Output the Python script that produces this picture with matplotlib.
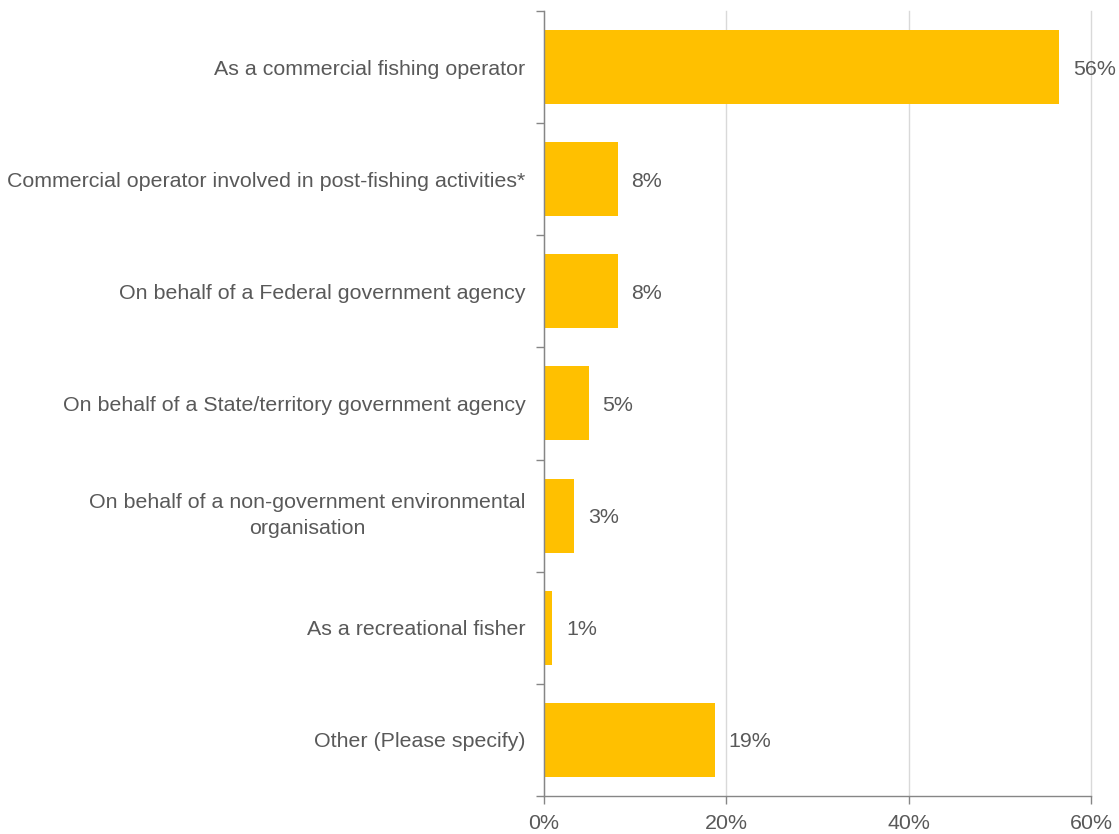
import matplotlib
matplotlib.use("Agg")
import matplotlib.pyplot as plt
from matplotlib.ticker import FixedLocator, NullFormatter
import numpy as np

categories = [
    "As a commercial fishing operator",
    "Commercial operator involved in post-fishing activities*",
    "On behalf of a Federal government agency",
    "On behalf of a State/territory government agency",
    "On behalf of a non-government environmental\norganisation",
    "As a recreational fisher",
    "Other (Please specify)",
]
values = [56.5, 8.1, 8.1, 4.9, 3.3, 0.9, 18.7]
value_labels = ["56%", "8%", "8%", "5%", "3%", "1%", "19%"]
xticks = [0, 20, 40, 60]
xtick_labels = ["0%", "20%", "40%", "60%"]

plt.rcParams['font.family'] = ['Liberation Sans', 'DejaVu Sans']
text_color = "#595959"
spine_color = "#868686"
grid_color = "#D9D9D9"
bar_color = "#FFC000"
fs = 15.4

fig = plt.figure(figsize=(11.19, 8.34), dpi=100)
ax = fig.add_axes([0.4862, 0.0456, 0.975 - 0.4862, 0.9868 - 0.0456])

n = len(categories)
y = np.arange(n)
ax.barh(y, values, height=0.66, color=bar_color, zorder=3)
ax.set_ylim(n - 0.5, -0.5)
ax.set_xlim(0, 60)

for yi, v, lab in zip(y, values, value_labels):
    ax.text(v + 1.5, yi, lab, va="center_baseline", ha="left", fontsize=fs,
            color=text_color, zorder=4)

ax.set_yticks(y)
ax.set_yticklabels(categories, fontsize=fs, color=text_color)
for lbl in ax.get_yticklabels():
    lbl.set_multialignment("center")
    lbl.set_linespacing(1.45)
    if "\n" in lbl.get_text():
        lbl.set_verticalalignment("center")
ax.tick_params(axis="y", which="major", length=0, pad=13.5)
ax.yaxis.set_minor_locator(FixedLocator(np.arange(-0.5, n, 1.0)))
ax.yaxis.set_minor_formatter(NullFormatter())
ax.tick_params(axis="y", which="minor", length=6, color=spine_color, width=1)

ax.set_xticks(xticks)
ax.set_xticklabels(xtick_labels, fontsize=fs, color=text_color)
ax.tick_params(axis="x", length=6, color=spine_color, width=1, pad=7)

ax.xaxis.grid(True, color=grid_color, linewidth=1, zorder=0)
for gl in ax.get_xgridlines():
    gl.set_clip_on(False)
ax.set_axisbelow(True)

for s in ["top", "right"]:
    ax.spines[s].set_visible(False)
for s in ["left", "bottom"]:
    ax.spines[s].set_color(spine_color)
    ax.spines[s].set_linewidth(1)
    ax.spines[s].set_zorder(5)

fig.savefig("out.png", dpi=100, facecolor="white")
